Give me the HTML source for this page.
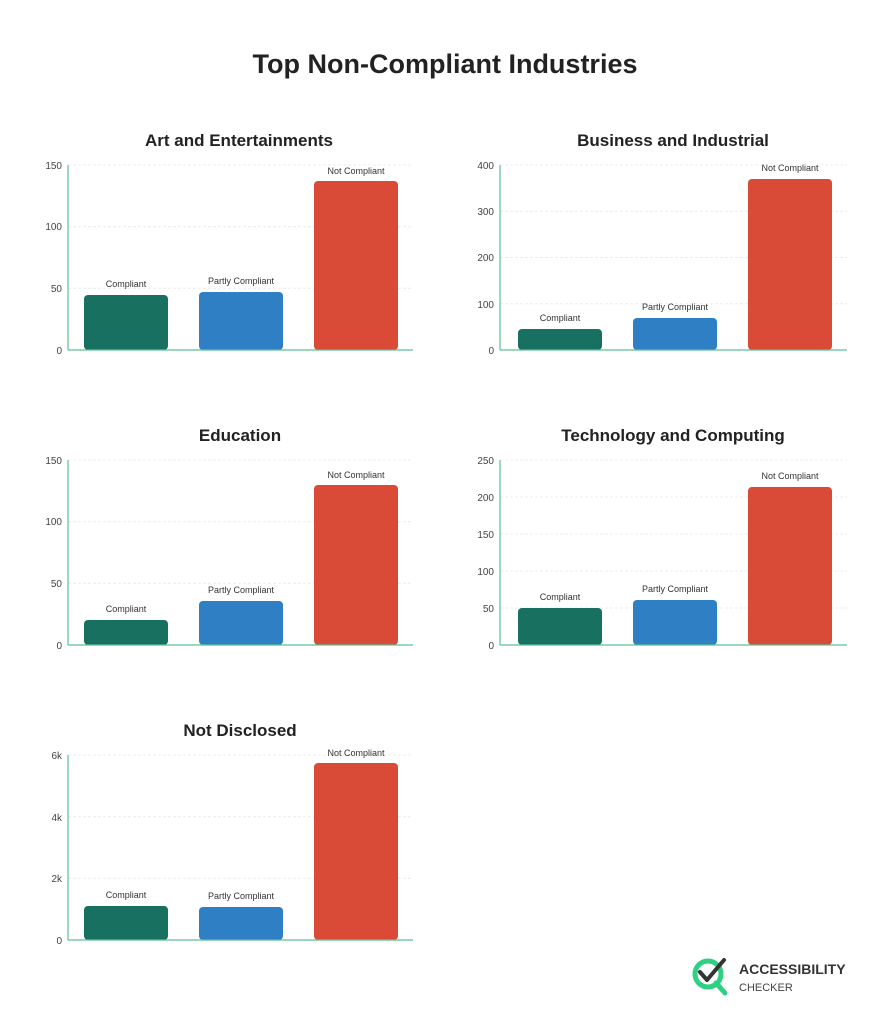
<!DOCTYPE html>
<html><head><meta charset="utf-8"><style>
body{margin:0;background:#fff;width:890px;height:1024px;overflow:hidden;font-family:"Liberation Sans",sans-serif}
</style></head><body>
<svg width="890" height="1024" xmlns="http://www.w3.org/2000/svg" font-family="Liberation Sans, sans-serif">
<text x="445" y="73" text-anchor="middle" font-size="27" font-weight="bold" fill="#222">Top Non-Compliant Industries</text>

<g font-size="17" font-weight="bold" fill="#222" text-anchor="middle">
<text x="239" y="146">Art and Entertainments</text>
<text x="673" y="146">Business and Industrial</text>
<text x="240" y="441">Education</text>
<text x="673" y="441">Technology and Computing</text>
<text x="240" y="736">Not Disclosed</text>
</g>

<g stroke="#ececec" stroke-dasharray="3,2" stroke-width="1">
<line x1="68" x2="413" y1="165" y2="165"/><line x1="68" x2="413" y1="226.7" y2="226.7"/><line x1="68" x2="413" y1="288.3" y2="288.3"/>
<line x1="500" x2="847" y1="165" y2="165"/><line x1="500" x2="847" y1="211.3" y2="211.3"/><line x1="500" x2="847" y1="257.5" y2="257.5"/><line x1="500" x2="847" y1="303.8" y2="303.8"/>
<line x1="68" x2="413" y1="460" y2="460"/><line x1="68" x2="413" y1="521.7" y2="521.7"/><line x1="68" x2="413" y1="583.3" y2="583.3"/>
<line x1="500" x2="847" y1="460" y2="460"/><line x1="500" x2="847" y1="497" y2="497"/><line x1="500" x2="847" y1="534" y2="534"/><line x1="500" x2="847" y1="571" y2="571"/><line x1="500" x2="847" y1="608" y2="608"/>
<line x1="68" x2="413" y1="755" y2="755"/><line x1="68" x2="413" y1="816.7" y2="816.7"/><line x1="68" x2="413" y1="878.3" y2="878.3"/>
</g>

<g font-size="10" fill="#444" text-anchor="end">
<text x="62" y="169">150</text><text x="62" y="230">100</text><text x="62" y="292">50</text><text x="62" y="354">0</text>
<text x="494" y="169">400</text><text x="494" y="215">300</text><text x="494" y="261">200</text><text x="494" y="308">100</text><text x="494" y="354">0</text>
<text x="62" y="464">150</text><text x="62" y="525">100</text><text x="62" y="587">50</text><text x="62" y="649">0</text>
<text x="494" y="464">250</text><text x="494" y="501">200</text><text x="494" y="538">150</text><text x="494" y="575">100</text><text x="494" y="612">50</text><text x="494" y="649">0</text>
<text x="62" y="759">6k</text><text x="62" y="821">4k</text><text x="62" y="882">2k</text><text x="62" y="944">0</text>
</g>

<g>
<rect x="84" y="295" width="84" height="55" rx="4" fill="#177060"/>
<rect x="199" y="292" width="84" height="58" rx="4" fill="#2f7fc5"/>
<rect x="314" y="181" width="84" height="169" rx="4" fill="#d94b36"/>
<rect x="518" y="329" width="84" height="21" rx="4" fill="#177060"/>
<rect x="633" y="318" width="84" height="32" rx="4" fill="#2f7fc5"/>
<rect x="748" y="179" width="84" height="171" rx="4" fill="#d94b36"/>
<rect x="84" y="620" width="84" height="25" rx="4" fill="#177060"/>
<rect x="199" y="601" width="84" height="44" rx="4" fill="#2f7fc5"/>
<rect x="314" y="485" width="84" height="160" rx="4" fill="#d94b36"/>
<rect x="518" y="608" width="84" height="37" rx="4" fill="#177060"/>
<rect x="633" y="600" width="84" height="45" rx="4" fill="#2f7fc5"/>
<rect x="748" y="487" width="84" height="158" rx="4" fill="#d94b36"/>
<rect x="84" y="906" width="84" height="34" rx="4" fill="#177060"/>
<rect x="199" y="907" width="84" height="33" rx="4" fill="#2f7fc5"/>
<rect x="314" y="763" width="84" height="177" rx="4" fill="#d94b36"/>
</g>

<g stroke="#5fbf95" stroke-width="1.2">
<line x1="68" x2="68" y1="165" y2="350"/><line x1="68" x2="413" y1="350" y2="350"/>
<line x1="500" x2="500" y1="165" y2="350"/><line x1="500" x2="847" y1="350" y2="350"/>
<line x1="68" x2="68" y1="460" y2="645"/><line x1="68" x2="413" y1="645" y2="645"/>
<line x1="500" x2="500" y1="460" y2="645"/><line x1="500" x2="847" y1="645" y2="645"/>
<line x1="68" x2="68" y1="755" y2="940"/><line x1="68" x2="413" y1="940" y2="940"/>
</g>

<g font-size="9" fill="#333" text-anchor="middle">
<text x="126" y="287">Compliant</text><text x="241" y="284">Partly Compliant</text><text x="356" y="174">Not Compliant</text>
<text x="560" y="321">Compliant</text><text x="675" y="310">Partly Compliant</text><text x="790" y="171">Not Compliant</text>
<text x="126" y="612">Compliant</text><text x="241" y="593">Partly Compliant</text><text x="356" y="478">Not Compliant</text>
<text x="560" y="600">Compliant</text><text x="675" y="592">Partly Compliant</text><text x="790" y="479">Not Compliant</text>
<text x="126" y="898">Compliant</text><text x="241" y="899">Partly Compliant</text><text x="356" y="756">Not Compliant</text>
</g>

<g>
<circle cx="708" cy="974" r="13" fill="none" stroke="#2fd083" stroke-width="5"/>
<line x1="716" y1="983" x2="725" y2="993" stroke="#2fd083" stroke-width="5" stroke-linecap="round"/>
<polyline points="700,972 707,980 724,960" fill="none" stroke="#333" stroke-width="4" stroke-linecap="round" stroke-linejoin="round"/>
<text x="739" y="974" font-size="14" font-weight="bold" fill="#333">ACCESSIBILITY</text>
<text x="739" y="991" font-size="11" fill="#444">CHECKER</text>
</g>
</svg>
</body></html>
